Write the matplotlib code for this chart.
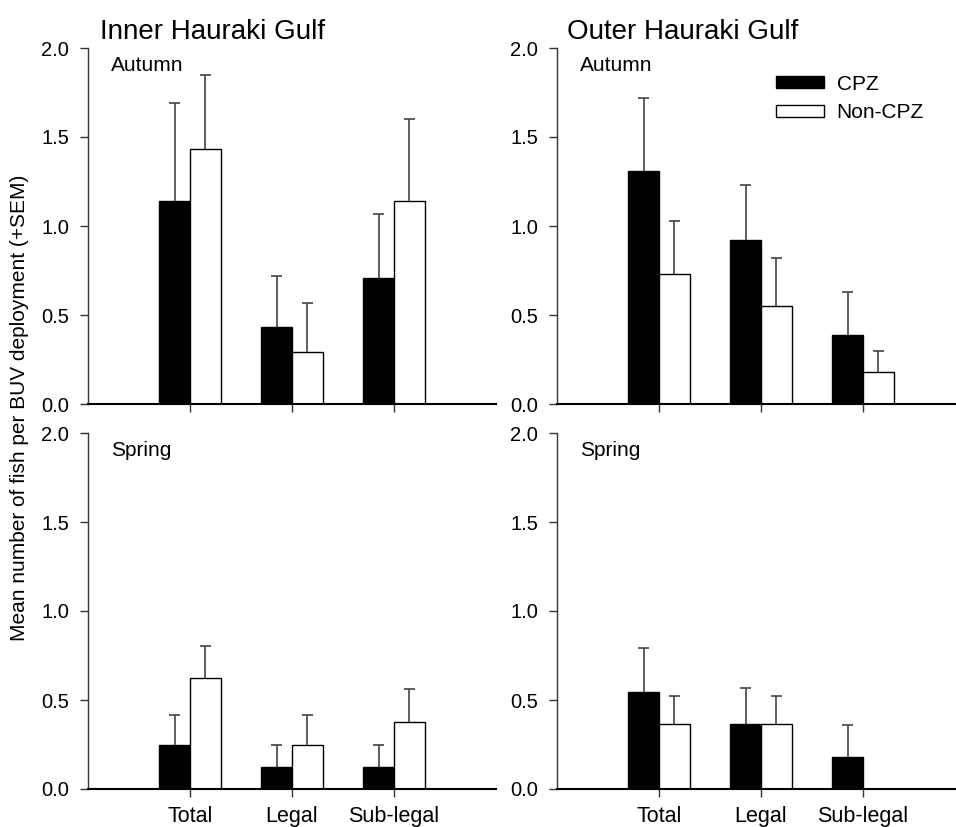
import numpy as np
import matplotlib
matplotlib.use("Agg")
import matplotlib.pyplot as plt
from matplotlib.patches import Patch

plt.rcParams['font.family'] = ['Liberation Sans', 'DejaVu Sans']

categories = ["Total", "Legal", "Sub-legal"]
regions = ["Inner Hauraki Gulf", "Outer Hauraki Gulf"]
seasons = ["Autumn", "Spring"]

# means and upper SEM ends
inner_autumn_cpz = [1.14, 0.43, 0.71]
inner_autumn_cpz_top = [1.69, 0.72, 1.07]
inner_autumn_non = [1.43, 0.29, 1.14]
inner_autumn_non_top = [1.85, 0.57, 1.60]

outer_autumn_cpz = [1.31, 0.92, 0.39]
outer_autumn_cpz_top = [1.72, 1.23, 0.63]
outer_autumn_non = [0.73, 0.55, 0.18]
outer_autumn_non_top = [1.03, 0.82, 0.30]

inner_spring_cpz = [0.25, 0.125, 0.125]
inner_spring_cpz_top = [0.415, 0.25, 0.25]
inner_spring_non = [0.625, 0.25, 0.375]
inner_spring_non_top = [0.805, 0.415, 0.56]

outer_spring_cpz = [0.545, 0.365, 0.18]
outer_spring_cpz_top = [0.79, 0.57, 0.36]
outer_spring_non = [0.365, 0.365, 0.0]
outer_spring_non_top = [0.52, 0.52, 0.0]

panels = {
    (0, 0): (inner_autumn_cpz, inner_autumn_cpz_top, inner_autumn_non, inner_autumn_non_top),
    (0, 1): (outer_autumn_cpz, outer_autumn_cpz_top, outer_autumn_non, outer_autumn_non_top),
    (1, 0): (inner_spring_cpz, inner_spring_cpz_top, inner_spring_non, inner_spring_non_top),
    (1, 1): (outer_spring_cpz, outer_spring_cpz_top, outer_spring_non, outer_spring_non_top),
}

W, H = 956, 827
fig = plt.figure(figsize=(W / 100, H / 100), dpi=100)

lefts = [88, 557]
bottoms = [404, 789]
ax_w, ax_h = 408, 356
width = 0.3
cap = 0.054
x = np.arange(1, 4)

for (r, c), (cpz, cpz_top, non, non_top) in panels.items():
    ax = fig.add_axes([lefts[c] / W, 1 - bottoms[r] / H, ax_w / W, ax_h / H])
    ax.bar(x - width / 2, cpz, width, color="black", edgecolor="black", linewidth=1, zorder=2)
    ax.bar(x + width / 2, non, width, color="white", edgecolor="black", linewidth=1, zorder=2)
    # one-sided SEM bars: stem from bar top to cap
    for xs, vals, tops in ((x - width / 2, cpz, cpz_top), (x + width / 2, non, non_top)):
        for xi, v, t in zip(xs, vals, tops):
            if t > v:
                ax.vlines(xi, v, t, color="#444444", linewidth=1.2, zorder=3)
                ax.hlines(t, xi - cap, xi + cap, color="#444444", linewidth=1.2, zorder=3)
    ax.set_xlim(0, 4)
    ax.set_ylim(0, 2.0)
    ax.set_yticks([0, 0.5, 1.0, 1.5, 2.0])
    ax.set_yticklabels(["0.0", "0.5", "1.0", "1.5", "2.0"], fontsize=14.5)
    ax.set_xticks(x)
    if r == 1:
        ax.set_xticklabels(categories, fontsize=15.5)
    else:
        ax.set_xticklabels([])
    ax.tick_params(axis="both", direction="out", length=5.5, width=1, color="#333333")
    ax.tick_params(axis="y", pad=8)
    ax.tick_params(axis="x", pad=6.5)
    for s in ("top", "right"):
        ax.spines[s].set_visible(False)
    ax.spines["left"].set_color("#333333")
    ax.spines["left"].set_linewidth(1)
    ax.spines["bottom"].set_linewidth(1.5)
    ax.text(0.056, 0.95, seasons[r], transform=ax.transAxes, fontsize=15, va="center", ha="left")

    if (r, c) == (0, 1):
        handles = [Patch(facecolor="black", edgecolor="black", label="CPZ"),
                   Patch(facecolor="white", edgecolor="black", label="Non-CPZ")]
        ax.legend(handles=handles, loc="upper left", bbox_to_anchor=(0.537, 0.925),
                  frameon=False, fontsize=15, handlelength=2.3, handleheight=0.53,
                  handletextpad=0.6, labelspacing=0.45, borderpad=0, borderaxespad=0)

fig.text(100 / W, 1 - 39 / H, regions[0], fontsize=20, ha="left", va="baseline")
fig.text(567 / W, 1 - 39 / H, regions[1], fontsize=20, ha="left", va="baseline")
fig.text(20 / W, 1 - 408 / H, "Mean number of fish per BUV deployment (+SEM)",
         rotation=90, fontsize=15, ha="center", va="center")

fig.savefig("out.png", dpi=100)
